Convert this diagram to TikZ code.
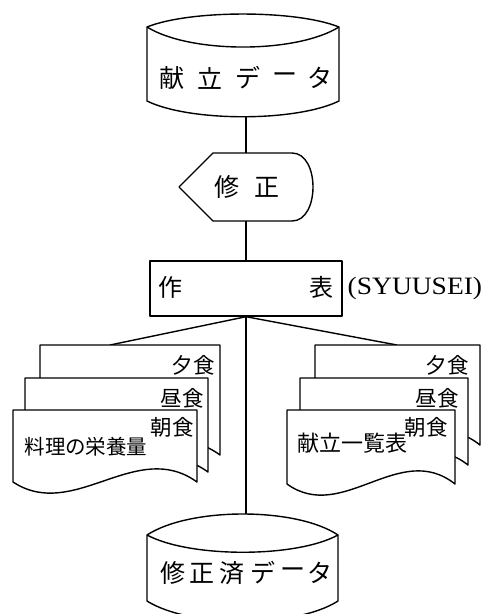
\documentclass[tikz,border=0pt]{standalone}
\usepackage{fontspec}
\setmainfont{Liberation Serif}
\newfontfamily\jp{Noto Sans CJK JP}
\newcommand\docpg[4]{% l t r b
  \pgfmathsetmacro\dw{(#3-#1)*0.33}
  \draw[shp] (#1,#2) -- (#3,#2) -- (#3,#4) .. controls +(-\dw,-44) and +(\dw,40) .. (#1,#4) -- cycle;
}
\begin{document}
\begin{tikzpicture}[x=1pt,y=-1pt, line width=1.4pt, line join=round,
  big/.style={font=\jp\fontsize{25}{25}\selectfont, inner sep=0pt},
  mid/.style={font=\jp\fontsize{25}{25}\selectfont, inner sep=0pt},
  dt/.style={font=\jp\fontsize{21.5}{21.5}\selectfont, inner sep=0pt},
  shp/.style={draw, fill=white}]
\useasboundingbox (0,0) rectangle (484,614);

% ---- top storage: 献立データ
\draw[shp] (147,27) .. controls (190,9.7) and (296,9.7) .. (339,27) -- (339,101)
  .. controls (296,122) and (190,122) .. (147,101) -- cycle;
\draw (147,27) .. controls (190,53.7) and (296,53.7) .. (339,27);
\coordinate (s1) at (246,117);
\node[big] (a1) at (172,78) {献};
\node[big] (a2) at (210,78) {立};
\node[big] (a3) at (248,78) {デ};
\node[big] (a4) at (285,78) {ー};
\node[big] (a5) at (320,78) {タ};

% ---- display: 修正
\draw[shp] (179,187) -- (213,153) -- (292,153) .. controls (320,153) and (320,221) .. (292,221) -- (213,221) -- cycle;
\coordinate (d1n) at (246,153);
\coordinate (d1s) at (246,221);
\node[mid] (b1) at (227,187) {修};
\node[mid] (b2) at (267,187) {正};

% ---- process: 作表
\node[draw, minimum width=192pt, minimum height=55pt, inner sep=0pt] (proc) at (246,288.5) {};
\node[font=\jp\fontsize{24}{24}\selectfont, inner sep=0pt] (c1) at (170,287) {作};
\node[font=\jp\fontsize{24}{24}\selectfont, inner sep=0pt] (c2) at (321,287) {表};
\node[font=\fontsize{25}{25}\selectfont, inner sep=0pt, anchor=west] (lbl) at (347,288) {\scalebox{1.1}[1]{(SYUUSEI)}};

% ---- connectors
\coordinate (ls) at (110,345);
\coordinate (rs) at (397,345);
\coordinate (s2n) at (246,514);
\draw (s1) -- (d1n);
\draw (d1s) -- (proc.north);
\draw (proc.south) -- (ls);
\draw (proc.south) -- (rs);
\draw (proc.south) -- (s2n);

% ---- left stack
\docpg{40}{345}{220}{455}
\docpg{25}{378}{208}{472}
\docpg{13}{410}{197}{482}
\node[dt] (l1) at (193,365) {夕食};
\node[dt] (l2) at (182,398) {昼食};
\node[dt] (l3) at (172,427) {朝食};
\node[font=\jp\fontsize{20.5}{20.5}\selectfont, inner sep=0pt] (l4) at (86,447) {料理の栄養量};

% ---- right stack
\docpg{315}{345}{480}{445}
\docpg{300}{378}{468}{465}
\docpg{287}{410}{455}{484}
\node[dt] (r1) at (447,365) {夕食};
\node[dt] (r2) at (437,398) {昼食};
\node[dt] (r3) at (426,427) {朝食};
\node[font=\jp\fontsize{22}{22}\selectfont, inner sep=0pt] (r4) at (352,443) {献立一覧表};

% ---- bottom storage: 修正済データ
\draw[shp] (147,535) .. controls (190,507) and (296,507) .. (338,535) -- (338,601)
  .. controls (296,628) and (190,628) .. (147,601) -- cycle;
\draw (147,535) .. controls (190,558) and (296,558) .. (338,535);
\node[big] (e1) at (173,573) {修};
\node[big] (e2) at (202,573) {正};
\node[big] (e3) at (232,573) {済};
\node[big] (e4) at (263,573) {デ};
\node[big] (e5) at (293,573) {ー};
\node[big] (e6) at (320,573) {タ};
\end{tikzpicture}
\end{document}
